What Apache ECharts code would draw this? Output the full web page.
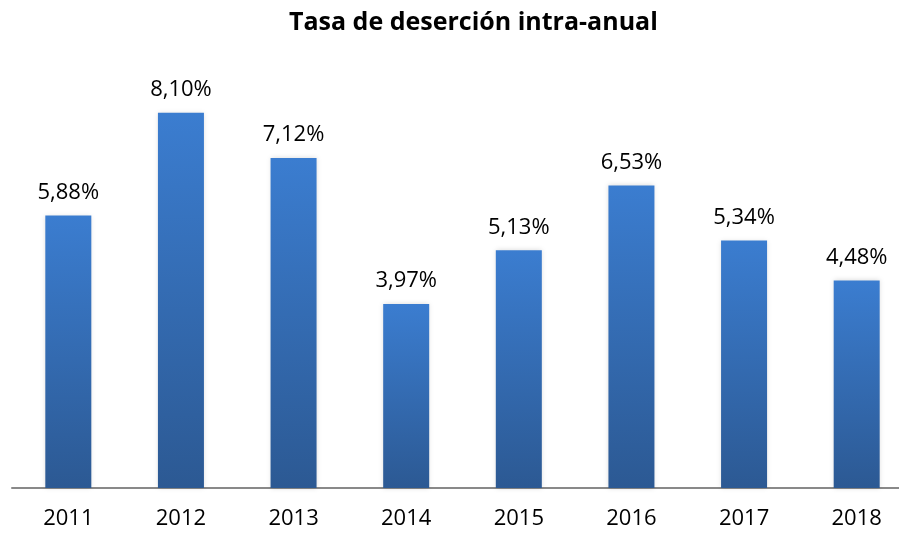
<!DOCTYPE html>
<html>
<head>
<meta charset="utf-8">
<script src="https://cdn.jsdelivr.net/npm/echarts@6/dist/echarts.min.js"></script>
<style>
  html, body { margin: 0; padding: 0; background: #fff; overflow: hidden; }
  #wrap { width: 899px; height: 535px; overflow: hidden; }
  #chart { width: 913px; height: 535px; }
</style>
</head>
<body>
<div id="wrap"><div id="chart"></div></div>
<script>
const years = ['2011', '2012', '2013', '2014', '2015', '2016', '2017', '2018']
const rates = [5.88, 8.10, 7.12, 3.97, 5.13, 6.53, 5.34, 4.48]

const chart = echarts.init(document.getElementById('chart'))
const font = '"Open Sans", "Liberation Sans", sans-serif'

chart.setOption({
  animation: false,
  title: {
    text: 'Tasa de deserción intra-anual',
    left: 284,
    top: 5,
    textStyle: { fontFamily: font, fontSize: 25, fontWeight: 'bold', color: '#000' }
  },
  grid: { left: 12, right: 0, top: 71, bottom: 47 },
  xAxis: {
    type: 'category',
    data: years,
    axisTick: { show: false },
    axisLine: { lineStyle: { color: '#898989', width: 2 } },
    axisLabel: { fontFamily: font, fontSize: 22, color: '#000', margin: 20 }
  },
  yAxis: {
    type: 'value',
    min: 0,
    max: 9,
    show: false,
    splitLine: { show: false }
  },
  series: [{
    type: 'bar',
    data: rates,
    barWidth: 46,
    itemStyle: {
      color: new echarts.graphic.LinearGradient(0, 0, 0, 1, [
        { offset: 0, color: '#3b7dd0' },
        { offset: 1, color: '#2c5993' }
      ]),
      shadowColor: 'rgba(0,0,0,0.15)',
      shadowBlur: 5
    },
    label: {
      show: true,
      position: 'top',
      distance: 12,
      fontFamily: font,
      fontSize: 22,
      color: '#000',
      formatter: p => p.value.toFixed(2).replace('.', ',') + '%'
    }
  }]
})
</script>
</body>
</html>
